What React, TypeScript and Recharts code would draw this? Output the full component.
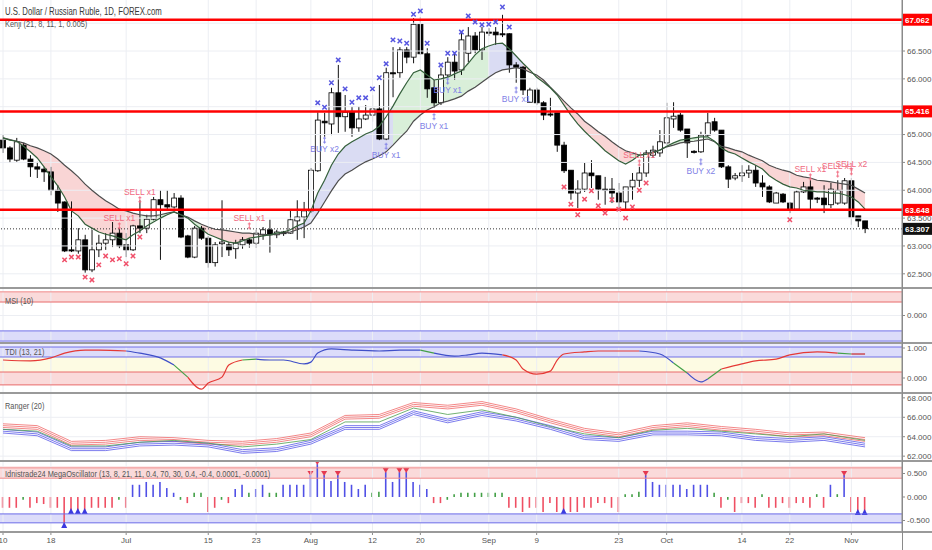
import React from "react";
import {
  ComposedChart,
  Bar,
  Line,
  Area,
  Scatter,
  XAxis,
  YAxis,
  ReferenceLine,
  ReferenceArea,
} from "recharts";

// daily candles, 6 bars a week (Sun-Fri), 10 Jun -> 4 Nov
const opens = [
  64.9, 64.76, 64.54, 64.81, 64.56, 64.42, 64.38, 64.33, 64.0, 63.79, 62.93, 62.91, 63.11, 62.57, 62.93, 63.05,
  63.11, 63.23, 63.02, 62.93, 63.36, 63.32, 63.48, 63.83, 63.74, 63.7, 63.86, 63.18, 62.8, 63.32, 63.14, 62.7,
  63.04, 63.02, 62.95, 63.02, 63.11, 63.05, 63.2, 63.29, 63.2, 63.25, 63.23, 63.45, 63.52, 63.63, 64.35, 65.24,
  65.19, 65.75, 65.32, 65.4, 65.12, 65.28, 65.35, 65.46, 64.92, 66.11, 66.11, 66.52, 66.39, 66.98, 66.45, 65.84,
  65.57, 66.07, 66.3, 66.16, 66.46, 66.77, 66.52, 66.84, 66.84, 66.81, 66.81, 66.25, 66.21, 65.58, 65.8, 65.57,
  65.37, 65.39, 64.81, 64.36, 63.95, 64.02, 64.31, 64.26, 64.02, 64.02, 63.95, 63.79, 64.06, 64.18, 64.31, 64.63,
  64.67, 64.85, 65.28, 65.35, 65.1, 64.7, 64.69, 64.99, 65.23, 65.08, 64.42, 64.22, 64.26, 64.31, 64.36, 64.13,
  64.06, 63.77, 63.93, 63.77, 63.66, 63.97, 64.06, 63.86, 63.86, 63.74, 63.77, 63.77, 64.17, 63.54, 63.45,
];
const highs = [
  64.99, 64.79, 64.94, 64.85, 64.63, 64.51, 64.42, 64.42, 64.09, 63.8, 63.8, 63.32, 63.2, 63.29, 63.2, 63.23,
  63.43, 63.32, 63.23, 63.38, 63.82, 63.56, 63.88, 64.0, 64.0, 63.95, 63.91, 63.2, 63.36, 63.36, 63.18, 63.07,
  63.82, 63.07, 63.11, 63.16, 63.14, 63.29, 63.34, 63.47, 63.29, 63.27, 63.65, 63.82, 63.79, 64.4, 65.4, 65.39,
  65.84, 66.25, 65.71, 65.5, 65.5, 65.53, 65.71, 65.89, 66.2, 66.57, 66.57, 66.57, 67.09, 67.11, 66.55, 65.98,
  66.2, 66.39, 66.48, 66.82, 66.93, 66.84, 66.93, 66.91, 66.93, 67.15, 66.82, 66.3, 66.23, 65.84, 65.84, 65.6,
  65.66, 65.39, 64.87, 64.36, 64.18, 64.49, 64.54, 64.26, 64.24, 64.22, 64.13, 64.06, 64.31, 64.42, 64.72, 64.8,
  65.08, 65.57, 65.58, 65.39, 65.1, 64.72, 65.05, 65.39, 65.3, 65.08, 64.45, 64.31, 64.45, 64.45, 64.45, 64.27,
  64.09, 63.97, 63.95, 63.79, 64.0, 64.15, 64.18, 63.88, 64.09, 64.13, 64.18, 64.22, 64.22, 63.54, 63.45,
];
const lows = [
  64.67, 64.49, 64.51, 64.54, 64.24, 64.22, 64.15, 63.91, 63.61, 62.89, 62.89, 62.86, 62.52, 62.53, 62.8, 62.93,
  62.98, 62.96, 62.8, 62.91, 63.23, 63.23, 63.46, 62.75, 63.65, 63.67, 63.14, 62.78, 62.78, 63.11, 62.61, 62.63,
  62.8, 62.82, 62.77, 62.95, 62.97, 62.97, 63.11, 62.88, 63.14, 63.18, 63.22, 63.11, 63.14, 63.59, 64.33, 64.96,
  64.99, 65.03, 65.05, 64.96, 65.05, 65.26, 65.23, 64.9, 64.9, 65.67, 66.02, 66.28, 66.28, 66.43, 65.66, 65.48,
  65.53, 66.03, 65.98, 66.07, 66.3, 66.46, 66.34, 66.77, 66.61, 66.75, 66.11, 65.93, 65.71, 65.58, 65.53, 65.26,
  65.32, 64.69, 64.31, 63.83, 63.68, 63.97, 64.04, 63.83, 63.74, 63.77, 63.65, 63.65, 63.83, 64.06, 64.24, 64.58,
  64.6, 64.81, 65.12, 65.05, 64.58, 64.66, 64.67, 64.96, 65.05, 64.4, 64.04, 64.18, 64.15, 64.22, 64.06, 63.88,
  63.77, 63.77, 63.77, 63.59, 63.65, 63.95, 63.65, 63.77, 63.59, 63.68, 63.74, 63.74, 63.38, 63.34, 63.23,
];
const closes = [
  64.76, 64.56, 64.87, 64.56, 64.42, 64.38, 64.33, 64.0, 63.77, 62.91, 62.91, 63.11, 62.57, 62.93, 63.05, 63.11,
  63.23, 63.0, 62.93, 63.36, 63.32, 63.48, 63.83, 63.74, 63.7, 63.86, 63.16, 62.8, 63.32, 63.14, 62.7, 63.02,
  63.07, 62.93, 63.05, 63.11, 63.05, 63.23, 63.29, 63.2, 63.25, 63.22, 63.47, 63.52, 63.63, 64.36, 65.26, 65.21,
  65.75, 65.32, 65.4, 65.12, 65.28, 65.35, 65.46, 64.92, 66.11, 66.09, 66.52, 66.39, 66.98, 66.45, 65.82, 65.57,
  66.07, 66.3, 66.14, 66.7, 66.77, 66.52, 66.84, 66.82, 66.79, 66.79, 66.25, 66.21, 65.8, 65.8, 65.57, 65.35,
  65.35, 64.81, 64.35, 63.95, 64.02, 64.31, 64.26, 64.02, 64.0, 63.95, 63.79, 64.06, 64.18, 64.31, 64.67, 64.72,
  64.87, 65.3, 65.33, 65.08, 64.85, 64.68, 64.99, 65.21, 65.08, 64.42, 64.2, 64.26, 64.31, 64.36, 64.13, 64.06,
  63.79, 63.95, 63.79, 63.66, 63.97, 64.06, 63.84, 63.84, 63.74, 64.02, 64.0, 64.17, 63.52, 63.45, 63.31,
];

// Kenji (21, 8, 11, 1, 0.005) - fast and slow lines
const kenjiFast = [
  64.94, 64.9, 64.88, 64.79, 64.69, 64.58, 64.42, 64.24, 64.08, 63.88, 63.63, 63.54, 63.39, 63.32, 63.25, 63.21,
  63.18, 63.14, 63.11, 63.2, 63.27, 63.36, 63.43, 63.5, 63.56, 63.61, 63.56, 63.5, 63.39, 63.3, 63.21, 63.16,
  63.11, 63.07, 63.05, 63.09, 63.14, 63.16, 63.18, 63.2, 63.23, 63.25, 63.29, 63.36, 63.41, 63.63, 63.95, 64.18,
  64.45, 64.65, 64.79, 64.87, 64.94, 65.01, 65.06, 65.15, 65.32, 65.51, 65.73, 65.93, 66.11, 66.16, 66.07, 65.98,
  66.0, 66.03, 66.09, 66.14, 66.28, 66.43, 66.54, 66.59, 66.63, 66.64, 66.54, 66.41, 66.28, 66.16, 66.03, 65.94,
  65.84, 65.71, 65.53, 65.35, 65.19, 65.06, 64.94, 64.83, 64.71, 64.62, 64.53, 64.47, 64.54, 64.63, 64.65, 64.67,
  64.72, 64.79, 64.85, 64.9, 64.92, 64.94, 64.96, 64.96, 64.88, 64.76, 64.69, 64.65, 64.58, 64.51, 64.45, 64.38,
  64.26, 64.18, 64.11, 64.06, 64.04, 64.0, 63.99, 63.97, 63.97, 63.95, 63.95, 63.92, 63.88, 63.79, 63.66,
];
const kenjiSlow = [
  64.94, 64.91, 64.88, 64.85, 64.8, 64.76, 64.71, 64.65, 64.56, 64.45, 64.35, 64.24, 64.11, 64.0, 63.9, 63.81,
  63.74, 63.66, 63.63, 63.59, 63.56, 63.54, 63.54, 63.56, 63.59, 63.61, 63.56, 63.52, 63.45, 63.39, 63.34, 63.3,
  63.29, 63.27, 63.25, 63.23, 63.23, 63.21, 63.21, 63.2, 63.21, 63.23, 63.25, 63.29, 63.34, 63.41, 63.59, 63.79,
  63.99, 64.17, 64.29, 64.36, 64.44, 64.51, 64.56, 64.62, 64.69, 64.81, 64.94, 65.06, 65.24, 65.35, 65.44, 65.5,
  65.57, 65.6, 65.64, 65.69, 65.78, 65.85, 65.94, 66.03, 66.11, 66.16, 66.18, 66.2, 66.18, 66.12, 66.07, 65.98,
  65.85, 65.73, 65.6, 65.48, 65.37, 65.24, 65.15, 65.05, 64.97, 64.87, 64.78, 64.71, 64.67, 64.63, 64.65, 64.69,
  64.72, 64.78, 64.81, 64.85, 64.87, 64.88, 64.9, 64.92, 64.87, 64.79, 64.76, 64.72, 64.69, 64.63, 64.58, 64.53,
  64.45, 64.4, 64.36, 64.33, 64.27, 64.24, 64.22, 64.18, 64.17, 64.15, 64.13, 64.11, 64.09, 64.02, 63.95,
];
// band fill between the two lines: [from bar, to bar, colour]
const kenjiZones: [number, number, string][] = [
  [0, 20, "#f9d5d5"],
  [20, 29, "#d9efd9"],
  [29, 43, "#f9d5d5"],
  [43, 57, "#dadcf3"],
  [57, 71, "#d9efd9"],
  [71, 76, "#dadcf3"],
  [76, 92, "#f9d5d5"],
  [92, 104, "#d9efd9"],
  [104, 126, "#f9d5d5"],
];

const dateTicks = [0, 7, 18, 30, 37, 45, 54, 61, 71, 78, 90, 97, 108, 115, 124];
const dateLabels = ["10", "18", "Jul", "15", "23", "Aug", "12", "20", "Sep", "9", "23", "Oct", "14", "22", "Nov"];

const priceTicks = [62.5, 63, 63.5, 64, 64.5, 65, 66, 66.5];
const gridPrices = [62.5, 63, 63.5, 64, 64.5, 65, 65.5, 66, 66.5, 67];
const levels = [67.062, 65.416, 63.648];
const lastPrice = 63.307;

// x markers
const sellMarkIdx = [9, 10, 11, 12, 13, 14, 15, 16, 17, 18, 19, 20, 82, 83, 84, 85, 86, 87, 88, 89, 90, 91, 92, 93, 94, 115];
const sellMarkPrice = [
  62.75, 62.8, 62.8, 62.44, 62.39, 62.66, 62.82, 62.75, 62.77, 62.68, 62.82, 63.16, 64.06, 63.75, 63.56, 63.84,
  63.99, 63.72, 63.59, 63.83, 63.66, 63.5, 63.7, 64.0, 64.13, 63.47,
];
const buyMarkIdx = [46, 47, 48, 49, 50, 51, 52, 53, 54, 55, 56, 57, 58, 59, 60, 61, 62, 64, 65, 66, 67, 68, 69, 70, 71, 72, 73, 74];
const buyMarkPrice = [
  65.57, 65.49, 65.93, 66.34, 65.82, 65.58, 65.66, 65.66, 65.82, 66.02, 66.27, 66.7, 66.68, 66.64, 67.16, 67.22,
  66.64, 66.25, 66.46, 66.46, 66.84, 67.13, 67.02, 66.97, 66.98, 67.02, 67.29, 66.93,
];

const signalIdx = [17, 20, 36, 47, 56, 63, 65, 75, 93, 102, 118, 122, 124];
const signalPrice = [63.36, 63.83, 63.36, 64.9, 64.79, 65.32, 65.96, 65.8, 64.49, 64.51, 64.24, 64.29, 64.33];
const signalText = [
  "SELL x1", "SELL x1", "SELL x1", "BUY x2", "BUY x1", "BUY x1", "BUY x1", "BUY x1", "SELL x1", "BUY x2",
  "SELL x1", "SELL x1", "SELL x2",
];

// TDI (13, 21)
const tdiIdx = [
  0, 4, 7, 9, 12, 14, 18, 20, 23, 25, 27, 29, 30, 32, 33, 35, 37, 39, 41, 44, 45, 46, 48, 51, 55, 58, 61, 63, 66,
  68, 70, 73, 75, 76, 78, 80, 81, 82, 85, 87, 93, 96, 98, 100, 102, 103, 105, 108, 110, 113, 115, 119, 122, 124, 126,
];
const tdiVal = [
  0.6, 0.57, 0.67, 0.83, 0.93, 0.93, 0.9, 0.83, 0.67, 0.43, 0.03, -0.37, -0.17, 0.03, 0.43, 0.6, 0.63, 0.6, 0.6,
  0.47, 0.53, 0.83, 0.97, 0.93, 0.9, 0.93, 0.93, 0.83, 0.73, 0.77, 0.83, 0.77, 0.6, 0.3, 0.13, 0.23, 0.6, 0.8,
  0.87, 0.9, 0.9, 0.8, 0.5, 0.17, -0.13, -0.03, 0.3, 0.47, 0.57, 0.63, 0.77, 0.87, 0.83, 0.8, 0.8,
];
const tdiRuns: [number, number, string][] = [
  [0, 18, "#e53935"], [18, 25, "#3f4fc8"], [25, 27, "#43a047"], [27, 35, "#e53935"], [35, 37, "#43a047"],
  [37, 61, "#3f4fc8"], [61, 63, "#43a047"], [63, 73, "#3f4fc8"], [73, 93, "#e53935"], [93, 98, "#3f4fc8"],
  [98, 100, "#43a047"], [100, 103, "#3f4fc8"], [103, 105, "#43a047"], [105, 122, "#e53935"], [122, 124, "#43a047"],
  [124, 126, "#c62828"],
];

// Ranger (20)
const rangerIdx = [0, 5, 10, 15, 20, 25, 30, 35, 40, 45, 50, 55, 60, 65, 70, 75, 80, 85, 90, 95, 100, 105, 110, 115, 120, 126];
const rangerRed1 = [65.33, 65.14, 63.52, 63.62, 64.0, 63.9, 63.62, 63.52, 63.81, 64.38, 66.19, 66.29, 67.52, 67.24, 67.62, 66.86, 65.81, 64.86, 64.38, 65.14, 65.43, 65.05, 64.76, 64.38, 64.48, 63.9];
const rangerRed2 = [65.14, 64.95, 63.33, 63.43, 63.81, 63.71, 63.43, 63.33, 63.62, 64.19, 66.0, 66.1, 67.33, 67.05, 67.43, 66.67, 65.62, 64.67, 64.19, 64.95, 65.24, 64.86, 64.57, 64.19, 64.29, 63.71];
const rangerRed3 = [64.95, 64.76, 63.14, 63.24, 63.62, 63.52, 63.24, 63.14, 63.43, 64.0, 65.81, 65.9, 67.14, 66.86, 67.24, 66.48, 65.43, 64.48, 64.0, 64.76, 65.05, 64.67, 64.38, 64.0, 64.1, 63.52];
const rangerMid = [64.76, 64.57, 63.05, 63.05, 63.43, 63.62, 63.33, 62.95, 63.24, 63.71, 65.52, 65.52, 66.95, 66.29, 66.76, 66.0, 65.05, 64.29, 63.9, 64.67, 64.86, 64.57, 64.29, 64.0, 64.29, 63.62];
const rangerBlue1 = [64.76, 64.48, 62.95, 62.95, 63.43, 63.52, 63.33, 62.67, 62.86, 63.62, 65.14, 65.14, 66.67, 65.81, 66.57, 66.0, 65.14, 64.1, 63.9, 64.57, 64.57, 64.48, 64.0, 63.81, 64.0, 63.33];
const rangerBlue2 = [64.57, 64.29, 62.76, 62.76, 63.24, 63.33, 63.14, 62.48, 62.67, 63.43, 64.95, 64.95, 66.48, 65.62, 66.38, 65.81, 64.95, 63.9, 63.71, 64.38, 64.38, 64.29, 63.81, 63.62, 63.81, 63.14];
const rangerBlue3 = [64.38, 64.1, 62.57, 62.57, 63.05, 63.14, 62.95, 62.29, 62.48, 63.24, 64.76, 64.76, 66.29, 65.43, 66.19, 65.62, 64.76, 63.71, 63.52, 64.19, 64.19, 64.1, 63.62, 63.43, 63.62, 62.95];

// Idnistrade24 MegaOscillator
const oscVal = [
  -0.23, -0.23, -0.23, -0.06, -0.23, -0.13, -0.15, -0.23, -0.23, -0.64, -0.34, -0.34, -0.34, -0.23, -0.23, -0.23,
  -0.23, -0.06, -0.23, 0.26, 0.26, 0.32, 0.26, 0.32, 0.19, 0.09, -0.06, -0.13, 0.09, 0.09, -0.32, -0.23,
  -0.06, -0.13, 0.17, 0.26, 0.09, 0.17, 0.26, 0.09, 0.09, 0.26, 0.26, 0.26, 0.26, 0.47, 0.7, 0.47,
  0.34, 0.47, 0.32, 0.26, 0.17, 0.26, 0.09, 0.11, 0.53, 0.32, 0.53, 0.53, 0.32, 0.26, 0.17, -0.13,
  -0.13, -0.06, 0.06, 0.09, 0.09, 0.09, 0.09, 0.09, 0.09, 0.09, -0.23, -0.23, -0.32, -0.23, -0.23, -0.32,
  -0.13, -0.32, -0.34, -0.32, -0.32, -0.23, -0.23, -0.13, -0.13, -0.23, -0.32, 0.06, 0.06, 0.11, 0.47, 0.32,
  0.26, 0.26, 0.26, 0.26, 0.17, 0.26, 0.26, 0.26, 0.09, -0.23, -0.06, -0.32, -0.13, -0.13, -0.23, 0.06,
  -0.23, -0.23, -0.13, -0.23, -0.13, -0.13, -0.23, 0.06, -0.23, 0.26, 0.06, 0.47, -0.32, -0.36, -0.36,
];
const oscColor = [
  "rrrg", "rrrrrrrrrrrrr", "g", "r", "bbbbbbb", "g", "r", "gg", "rr", "g", "r", "bb", "g", "bb", "gg",
  "bbbbbbbbbbbbb", "gg", "bbbbbbb", "rr", "gg", "ggggggg", "rrrrrrrrrrrrrrrrr", "ggg", "bbbbbbbbbb", "g", "r",
  "g", "rrrr", "g", "rrrrrrr", "g", "r", "b", "g", "b", "rrr",
].join("");
const oscPeakIdx = [45, 46, 47, 49, 56, 58, 59, 94, 123];
const oscTroughIdx = [9, 10, 11, 12, 82, 125, 126];

const X_DOMAIN: [number, number] = [-0.44, 131.4];
const WIDTH = 932;
const FONT = "'Liberation Sans', Arial, sans-serif";
const GRID = "#eceef3";
const AXIS = "#8a8a8a";
const TXT = "#555";
const OSC_COLORS: Record<string, string> = { r: "#ef4f63", b: "#5050e6", g: "#43a047" };

const mainRows = opens.map((o, i) => {
  const row: any = {
    i,
    o,
    h: highs[i],
    l: lows[i],
    c: closes[i],
    range: [lows[i], highs[i]],
    fast: kenjiFast[i],
    slow: kenjiSlow[i],
  };
  kenjiZones.forEach(([a, b], k) => {
    row[`z${k}`] = i >= a && i <= b ? [kenjiFast[i], kenjiSlow[i]] : null;
  });
  return row;
});

const sellMarks = sellMarkIdx.map((i, k) => ({ i, p: sellMarkPrice[k] }));
const buyMarks = buyMarkIdx.map((i, k) => ({ i, p: buyMarkPrice[k] }));
const signals = signalIdx.map((i, k) => ({ i, p: signalPrice[k], text: signalText[k] }));

const tdiRows = tdiIdx.map((i, k) => {
  const row: any = { i };
  tdiRuns.forEach(([a, b], r) => {
    row[`t${r}`] = i >= a && i <= b ? tdiVal[k] : null;
  });
  return row;
});

const rangerRows = rangerIdx.map((i, k) => ({
  i,
  r1: rangerRed1[k],
  r2: rangerRed2[k],
  r3: rangerRed3[k],
  g: rangerMid[k],
  b1: rangerBlue1[k],
  b2: rangerBlue2[k],
  b3: rangerBlue3[k],
}));

const oscRows = oscVal.map((v, i) => ({
  i,
  v,
  col: oscColor[i] || "r",
  peak: oscPeakIdx.includes(i),
  trough: oscTroughIdx.includes(i),
}));

const yAxisProps: any = {
  orientation: "right",
  width: 30,
  allowDataOverflow: true,
  interval: 0,
  tick: { fontSize: 8, fill: TXT, fontFamily: FONT },
  tickSize: 3,
  tickMargin: 2,
  axisLine: { stroke: AXIS },
  tickLine: { stroke: AXIS },
  tickFormatter: (v: number) => v.toFixed(3),
};

function Candle(props: any) {
  const { x, y, width, height, payload } = props;
  if (x == null || y == null || !payload) return null;
  const { o, h, l, c } = payload;
  const top = Math.min(y, y + height);
  const bot = Math.max(y, y + height);
  const span = h - l || 1;
  const py = (v: number) => top + ((h - v) / span) * (bot - top);
  const cx = x + width / 2;
  const yo = py(o);
  const yc = py(c);
  const up = c >= o;
  const bt = Math.min(yo, yc);
  const bh = Math.max(Math.abs(yo - yc), 1);
  return (
    <g>
      <line x1={cx} x2={cx} y1={top} y2={bot} stroke="#111" strokeWidth={1} />
      <rect x={x} y={bt} width={width} height={bh} fill={up ? "#fff" : "#000"} stroke="#000" strokeWidth={0.8} />
    </g>
  );
}

function XMark(props: any) {
  const { cx, cy, color } = props;
  if (cx == null || cy == null) return null;
  const s = 2.2;
  return (
    <path
      d={`M${cx - s},${cy - s}L${cx + s},${cy + s}M${cx + s},${cy - s}L${cx - s},${cy + s}`}
      stroke={color}
      strokeWidth={1.5}
    />
  );
}

function SignalMark(props: any) {
  const { cx, cy, payload } = props;
  if (cx == null || cy == null || !payload) return null;
  const sell = payload.text.startsWith("SELL");
  const col = sell ? "#f0687e" : "#7f7fe6";
  const ty = sell ? cy - 5 : cy + 12;
  return (
    <g>
      <line x1={cx} x2={cx} y1={cy - 3.5} y2={cy + 3.5} stroke={col} strokeWidth={0.9} />
      <path
        d={`M${cx - 1.5},${cy - 2}L${cx + 1.5},${cy - 2}M${cx - 1.5},${cy + 2}L${cx + 1.5},${cy + 2}`}
        stroke={col}
        strokeWidth={0.9}
      />
      <text x={cx} y={ty} textAnchor="middle" fontSize={8.5} fill={col} fontFamily={FONT}>
        {payload.text}
      </text>
    </g>
  );
}

function OscBar(props: any) {
  const { x, y, width, height, payload } = props;
  if (x == null || y == null || !payload) return null;
  const top = Math.min(y, y + height);
  const bot = Math.max(y, y + height);
  const cx = x + width / 2;
  const col = OSC_COLORS[payload.col] || OSC_COLORS.r;
  const pos = payload.v >= 0;
  return (
    <g>
      <line x1={cx} x2={cx} y1={top} y2={bot} stroke={col} strokeWidth={1.6} />
      {payload.peak && pos && (
        <path d={`M${cx - 3},${top - 4}L${cx + 3},${top - 4}L${cx},${top + 1}Z`} fill="#e53950" />
      )}
      {payload.trough && !pos && (
        <path d={`M${cx - 3},${bot + 1}L${cx + 3},${bot + 1}L${cx},${bot - 5}Z`} fill="#3a3ae0" />
      )}
    </g>
  );
}

function PriceTag(props: any) {
  const { viewBox, text, bg } = props;
  if (!viewBox) return null;
  const x = viewBox.x + viewBox.width;
  const y = viewBox.y;
  return (
    <g>
      <rect x={x} y={y - 6} width={30} height={12} fill={bg} />
      <text x={x + 3} y={y + 3} fontSize={8} fill="#fff" fontWeight="bold" fontFamily={FONT}>
        {text}
      </text>
    </g>
  );
}

const vGrid = (prefix: string) =>
  dateTicks.map((t) => <ReferenceLine key={`${prefix}${t}`} x={t} stroke={GRID} />);

const pane = (top: number, height: number, child: React.ReactNode) => (
  <div style={{ position: "absolute", left: 0, top, width: WIDTH, height }}>{child}</div>
);

// pane titles: TradingView's face is narrow, so squeeze the text a little
const labelStyle: React.CSSProperties = {
  position: "absolute",
  left: 5,
  fontFamily: FONT,
  fontSize: 9,
  color: TXT,
  lineHeight: 1,
  whiteSpace: "nowrap",
  transform: "scaleX(0.82)",
  transformOrigin: "0 0",
};

export default function App() {
  const margin = { top: 0, right: 0, bottom: 0, left: 0 };
  return (
    <div style={{ position: "absolute", left: 0, top: 0, width: WIDTH, height: 550, background: "#fff", overflow: "hidden" }}>
      {pane(
        0,
        288,
        <ComposedChart width={WIDTH} height={288} data={mainRows} margin={margin}>
          <XAxis type="number" dataKey="i" domain={X_DOMAIN} allowDataOverflow hide />
          <YAxis {...yAxisProps} domain={[62.245, 67.416]} ticks={priceTicks} />
          {vGrid("m")}
          {gridPrices.map((p) => (
            <ReferenceLine key={`hg${p}`} y={p} stroke={GRID} />
          ))}
          {kenjiZones.map((z, k) => (
            <Area
              key={`z${k}`}
              dataKey={`z${k}`}
              type="linear"
              stroke="none"
              fill={z[2]}
              fillOpacity={1}
              activeDot={false}
              isAnimationActive={false}
            />
          ))}
          <Line dataKey="slow" type="linear" stroke="#4d4d4d" strokeWidth={1.2} dot={false} activeDot={false} isAnimationActive={false} />
          <Line dataKey="fast" type="linear" stroke="#35603c" strokeWidth={1.2} dot={false} activeDot={false} isAnimationActive={false} />
          <Bar dataKey="range" barSize={5} shape={(p: any) => <Candle {...p} />} isAnimationActive={false} />
          {levels.map((lv) => (
            <ReferenceLine
              key={`lv${lv}`}
              y={lv}
              stroke="#ff0000"
              strokeWidth={2.5}
              label={<PriceTag text={lv.toFixed(3)} bg="#ff0000" />}
            />
          ))}
          <ReferenceLine
            y={lastPrice}
            stroke="#333"
            strokeDasharray="1 2"
            label={<PriceTag text={lastPrice.toFixed(3)} bg="#111" />}
          />
          <Scatter data={sellMarks} dataKey="p" shape={(p: any) => <XMark {...p} color="#f0506a" />} isAnimationActive={false} />
          <Scatter data={buyMarks} dataKey="p" shape={(p: any) => <XMark {...p} color="#5656e0" />} isAnimationActive={false} />
          <Scatter data={signals} dataKey="p" shape={(p: any) => <SignalMark {...p} />} isAnimationActive={false} />
        </ComposedChart>
      )}

      {pane(
        288,
        55,
        <ComposedChart width={WIDTH} height={55} data={[{ i: 0, m: null }, { i: 126, m: null }]} margin={margin}>
          <XAxis type="number" dataKey="i" domain={X_DOMAIN} allowDataOverflow hide />
          <YAxis {...yAxisProps} domain={[-1, 1]} ticks={[0]} />
          {vGrid("s")}
          <ReferenceLine y={0} stroke={GRID} />
          <ReferenceArea y1={0.49} y2={0.86} fill="#fadada" fillOpacity={1} stroke="none" />
          <ReferenceLine y={0.86} stroke="#f08a8a" />
          <ReferenceLine y={0.49} stroke="#e86a6a" />
          <ReferenceArea y1={-0.93} y2={-0.56} fill="#dcdcfa" fillOpacity={1} stroke="none" />
          <ReferenceLine y={-0.56} stroke="#7070e8" />
          <ReferenceLine y={-0.93} stroke="#7070e8" />
          <Line dataKey="m" dot={false} stroke="none" isAnimationActive={false} />
        </ComposedChart>
      )}

      {pane(
        343,
        50,
        <ComposedChart width={WIDTH} height={50} data={tdiRows} margin={margin}>
          <XAxis type="number" dataKey="i" domain={X_DOMAIN} allowDataOverflow hide />
          <YAxis {...yAxisProps} domain={[-0.5, 1.167]} ticks={[0, 1]} />
          {vGrid("t")}
          <ReferenceArea y1={1.033} y2={1.167} fill="#ececfc" fillOpacity={1} stroke="none" />
          <ReferenceArea y1={0.7} y2={1.033} fill="#dcdcfa" fillOpacity={1} stroke="none" />
          <ReferenceArea y1={0.2} y2={0.7} fill="#fdfbe3" fillOpacity={1} stroke="none" />
          <ReferenceArea y1={-0.23} y2={0.2} fill="#fadada" fillOpacity={1} stroke="none" />
          <ReferenceLine y={1.033} stroke="#7070e8" />
          <ReferenceLine y={0.7} stroke="#7070e8" />
          <ReferenceLine y={0.2} stroke="#e86a6a" />
          <ReferenceLine y={-0.23} stroke="#e86a6a" />
          {tdiRuns.map((r, k) => (
            <Line
              key={`t${k}`}
              dataKey={`t${k}`}
              type="monotone"
              stroke={r[2]}
              strokeWidth={1.2}
              dot={false}
              activeDot={false}
              isAnimationActive={false}
            />
          ))}
        </ComposedChart>
      )}

      {pane(
        393,
        68,
        <ComposedChart width={WIDTH} height={68} data={rangerRows} margin={margin}>
          <XAxis type="number" dataKey="i" domain={X_DOMAIN} allowDataOverflow hide />
          <YAxis {...yAxisProps} domain={[61.5, 68.5]} ticks={[62, 64, 66, 68]} />
          {vGrid("r")}
          {[62, 64, 66].map((v) => (
            <ReferenceLine key={`rg${v}`} y={v} stroke={GRID} />
          ))}
          {["r1", "r2", "r3"].map((k) => (
            <Line key={k} dataKey={k} type="linear" stroke="#f06a6a" strokeWidth={0.8} dot={false} activeDot={false} isAnimationActive={false} />
          ))}
          {["b1", "b2", "b3"].map((k) => (
            <Line key={k} dataKey={k} type="linear" stroke="#5a5ae8" strokeWidth={0.8} dot={false} activeDot={false} isAnimationActive={false} />
          ))}
          <Line dataKey="g" type="linear" stroke="#4e9e4e" strokeWidth={0.8} dot={false} activeDot={false} isAnimationActive={false} />
        </ComposedChart>
      )}

      {pane(
        461,
        89,
        <ComposedChart width={WIDTH} height={89} data={oscRows} margin={margin}>
          <XAxis
            type="number"
            dataKey="i"
            domain={X_DOMAIN}
            allowDataOverflow
            ticks={dateTicks}
            interval={0}
            height={18}
            tickSize={3}
            tickMargin={2}
            axisLine={{ stroke: AXIS }}
            tickLine={{ stroke: AXIS }}
            tick={{ fontSize: 8, fill: TXT, fontFamily: FONT }}
            tickFormatter={(v: number) => dateLabels[dateTicks.indexOf(v)] ?? ""}
          />
          <YAxis {...yAxisProps} domain={[-0.745, 0.766]} ticks={[-0.5, 0, 0.5]} />
          {vGrid("o")}
          <ReferenceArea y1={0.4} y2={0.62} fill="#fadada" fillOpacity={1} stroke="none" />
          <ReferenceArea y1={0.62} y2={0.66} fill="#fdeaea" fillOpacity={1} stroke="none" />
          <ReferenceLine y={0.62} stroke="#f08a8a" />
          <ReferenceLine y={0.4} stroke="#f08a8a" />
          <ReferenceArea y1={-0.55} y2={-0.36} fill="#dcdcfa" fillOpacity={1} stroke="none" />
          <ReferenceLine y={-0.36} stroke="#6a6ae8" />
          <ReferenceLine y={-0.55} stroke="#6a6ae8" />
          <Bar dataKey="v" barSize={2} shape={(p: any) => <OscBar {...p} />} isAnimationActive={false} />
        </ComposedChart>
      )}

      {[287, 342, 392, 460, 531].map((t) => (
        <div key={t} style={{ position: "absolute", left: 0, top: t, width: WIDTH, height: 2, background: "#9a9a9a" }} />
      ))}
      <div style={{ position: "absolute", left: 902, top: 0, width: 1, height: 550, background: AXIS }} />

      <div style={{ ...labelStyle, top: 6, fontSize: 10.5, color: "#383838", transform: "scaleX(0.74)" }}>
        U.S. Dollar / Russian Ruble, 1D, FOREX.com
      </div>
      <div style={{ ...labelStyle, top: 20 }}>Kenji (21, 8, 11, 1, 0.005)</div>
      <div style={{ ...labelStyle, top: 297 }}>MSI (10)</div>
      <div style={{ ...labelStyle, top: 348 }}>TDI (13, 21)</div>
      <div style={{ ...labelStyle, top: 402 }}>Ranger (20)</div>
      <div style={{ ...labelStyle, top: 470 }}>
        Idnistrade24 MegaOscillator (13, 8, 21, 11, 0.4, 70, 30, 0.4, -0.4, 0.0001, -0.0001)
      </div>
    </div>
  );
}
